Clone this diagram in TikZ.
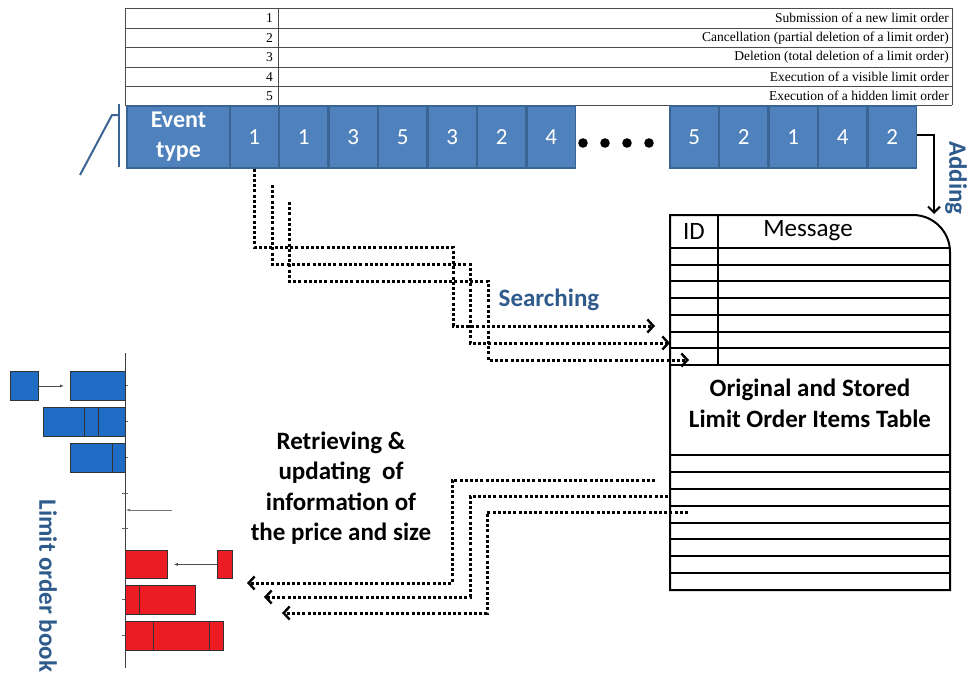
\documentclass[tikz,border=0pt]{standalone}
\usepackage{fontspec}
\setmainfont{Carlito}
\newfontfamily\legendfont{Liberation Serif}
\usetikzlibrary{arrows.meta,positioning,calc}
\definecolor{cellblue}{HTML}{4F81BD}
\definecolor{cellline}{HTML}{3A6494}
\definecolor{labelblue}{HTML}{2E5B8C}
\definecolor{bookblue}{HTML}{1F6CC4}
\definecolor{bookred}{HTML}{EC1C24}

\begin{document}
\begin{tikzpicture}[x=1pt, y=-1pt,
    evcell/.style={draw=cellline, line width=1.2pt, fill=cellblue, text=white, minimum width=48.3pt, minimum height=62pt, inner sep=0pt, font=\fontsize{23}{24}\selectfont},
    legtext/.style={font=\legendfont\fontsize{13.5}{14}\selectfont, anchor=east, inner sep=0pt},
    legline/.style={draw=black!70, line width=0.6pt},
    tblline/.style={line width=2pt},
    srch/.style={line width=3pt, dash pattern=on 3pt off 2.2pt, -{Straight Barb[length=6pt, width=13pt, line width=2.4pt]}},
    bluelabel/.style={text=labelblue, font=\fontsize{25}{26}\selectfont\bfseries},
    bookbar/.style={draw=black!80, line width=0.8pt, inner sep=0pt, anchor=north west},
    bookarrow/.style={draw=black!70, line width=0.6pt, -{Latex[length=4pt, width=3pt]}}
]
    \useasboundingbox (0,0) rectangle (967,678);

    % Legend of event types
    \foreach \y in {8,28,47,67,86,105} \draw[legline] (125,\y) -- (952,\y);
    \draw[legline] (125,8) -- (125,105);
    \draw[legline] (278,8) -- (278,105);
    \draw[legline] (952,8) -- (952,105);
    \node[legtext] (n1) at (273,18) {1};
    \node[legtext] (n2) at (273,38) {2};
    \node[legtext] (n3) at (273,57) {3};
    \node[legtext] (n4) at (273,77) {4};
    \node[legtext] (n5) at (273,96) {5};
    \node[legtext] (t1) at (949,18) {Submission of a new limit order};
    \node[legtext] (t2) at (949,38) {Cancellation (partial deletion of a limit order)};
    \node[legtext] (t3) at (949,57) {Deletion (total deletion of a limit order)};
    \node[legtext] (t4) at (949,77) {Execution of a visible limit order};
    \node[legtext] (t5) at (949,96) {Execution of a hidden limit order};

    % Event type stream
    \node[evcell, minimum width=103pt, font=\fontsize{24}{30}\selectfont\bfseries, align=center] (ev) at (178.5,137) {Event\\type};
    \node[evcell] (c1) at (254.2,137) {1};
    \node[evcell, right=0pt of c1] (c2) {1};
    \node[evcell, right=0pt of c2] (c3) {3};
    \node[evcell, right=0pt of c3] (c4) {5};
    \node[evcell, right=0pt of c4] (c5) {3};
    \node[evcell, right=0pt of c5] (c6) {2};
    \node[evcell, right=0pt of c6] (c7) {4};
    \foreach \x in {583,605,627,649} \fill (\x,143) circle (4.8pt);
    \node[evcell] (d1) at (694.2,137) {5};
    \node[evcell, right=0pt of d1] (d2) {2};
    \node[evcell, right=0pt of d2] (d3) {1};
    \node[evcell, right=0pt of d3] (d4) {4};
    \node[evcell, right=0pt of d4] (d5) {2};
    \draw[cellline, line width=2pt] (119,104) -- (119,167);
    \draw[cellline, line width=2pt] (119,115) -- (112,115) -- (80,175);

    % Stored items table
    \draw[tblline] (670,590) -- (670,215) -- (913,215) .. controls (933.4,215) and (950,231.6) .. (950,252) -- (950,590) -- cycle;
    \foreach \i in {0,...,7} \draw[tblline] (670,248+16.71*\i) -- (950,248+16.71*\i);
    \foreach \i in {0,...,7} \draw[tblline] (670,455+16.875*\i) -- (950,455+16.875*\i);
    \draw[tblline] (718,215) -- (718,365);
    \node[font=\fontsize{25}{26}\selectfont] (id) at (694,231) {ID};
    \node[font=\fontsize{25}{26}\selectfont] (msg) at (808,231) {Message};
    \node[font=\fontsize{25}{31}\selectfont\bfseries, align=center] (tbltxt) at (810,403) {Original and Stored\\Limit Order Items Table};

    % Adding
    \coordinate (addend) at (934,214);
    \draw[line width=2pt, -{Straight Barb[length=6pt, width=12pt, line width=2pt]}] (d5.east |- 0,135) -| (addend);
    \node[bluelabel, rotate=-90] (adding) at (956,178) {Adding};

    % Searching
    \coordinate (p2) at (272,185);
    \coordinate (p3) at (289,202);
    \coordinate (s1) at (655,326);
    \coordinate (s2) at (670,343);
    \coordinate (s3) at (689,360);
    \draw[srch] (c1.south) |- (453,247) |- (s1);
    \draw[srch] (p2) |- (470,264) |- (s2);
    \draw[srch] (p3) |- (488,281) |- (s3);
    \node[bluelabel] (search) at (549,300) {Searching};

    % Retrieving
    \coordinate (r1) at (655,480);
    \coordinate (r2) at (668,496);
    \coordinate (r3) at (688,512);
    \coordinate (l1) at (247,583);
    \coordinate (l2) at (264,597);
    \coordinate (l3) at (282,613);
    \draw[srch] (r1) -| (452,583) -- (l1);
    \draw[srch] (r2) -| (470,597) -- (l2);
    \draw[srch] (r3) -| (487,613) -- (l3);
    \node[font=\fontsize{25}{30.5}\selectfont\bfseries, align=center] (retr) at (341,488) {Retrieving \&\\updating~ of\\information of\\the price and size};

    % Limit order book
    \draw[black!75, line width=1pt] (125,353) -- (125,668);
    \foreach \y in {385,421,457,493,528,599,635} \draw[black!60, line width=0.6pt] (122,\y) -- (128,\y);
    \node[bookbar, fill=bookblue, minimum width=28pt, minimum height=29pt] (bk0) at (10,371) {};
    \node[bookbar, fill=bookblue, minimum width=55pt, minimum height=29pt] (bk1) at (70,371) {};
    \node[bookbar, fill=bookblue, minimum width=82pt, minimum height=29pt] (bk2) at (43,407) {};
    \node[bookbar, fill=bookblue, minimum width=55pt, minimum height=29pt] (bk3) at (70,443) {};
    \draw[black!80, line width=0.8pt] (84,407) -- (84,436) (98,407) -- (98,436) (112,443) -- (112,472);
    \draw[bookarrow, shorten >=6pt] (bk0) -- (bk1);
    \coordinate (mk) at (172,510);
    \coordinate (ax) at (126,510);
    \draw[bookarrow, black!55] (mk) -- (ax);
    \node[bookbar, fill=bookred, minimum width=15pt, minimum height=28pt] (rd0) at (217,550) {};
    \node[bookbar, fill=bookred, minimum width=42pt, minimum height=28pt] (rd1) at (125,550) {};
    \node[bookbar, fill=bookred, minimum width=70pt, minimum height=29pt] (rd2) at (125,585) {};
    \node[bookbar, fill=bookred, minimum width=98pt, minimum height=29pt] (rd3) at (125,621) {};
    \draw[black!80, line width=0.8pt] (139,585) -- (139,614) (153,621) -- (153,650) (209,621) -- (209,650);
    \draw[bookarrow, shorten >=6pt] (rd0) -- (rd1);
    \node[bluelabel, rotate=-90] (lob) at (48,586) {Limit order book};
\end{tikzpicture}
\end{document}
